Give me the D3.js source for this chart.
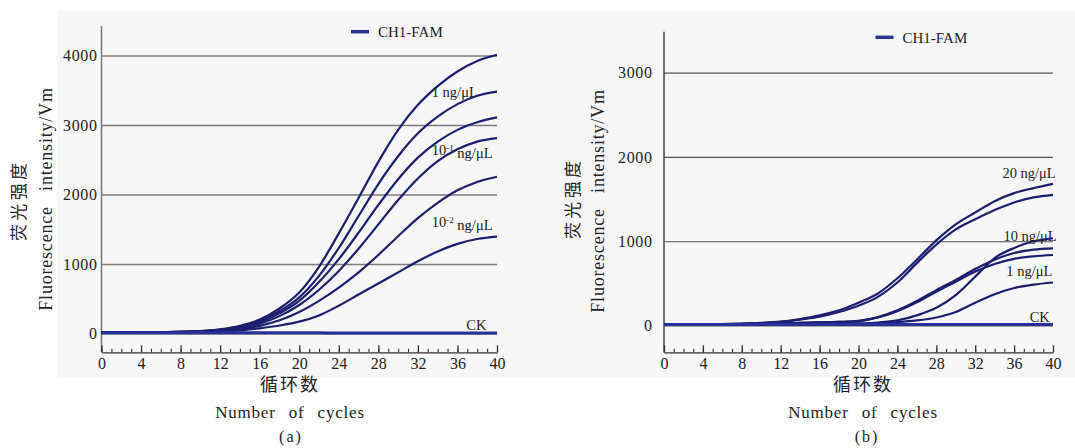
<!DOCTYPE html>
<html>
<head>
<meta charset="utf-8">
<script src="https://cdn.jsdelivr.net/npm/d3@7"></script>
<style>
  body { margin: 0; background: #fff; }
  text { font-family: "Liberation Serif", "Times New Roman", "DejaVu Serif", serif; fill: #222; }
  .cn { font-family: "Noto Sans CJK SC", sans-serif; }
</style>
</head>
<body>
<div id="chart"></div>
<script>
// cycles sampled every 2
const cycles = [0, 2, 4, 6, 8, 10, 12, 14, 16, 18, 20, 22, 24, 26, 28, 30, 32, 34, 36, 38, 40]

// panel (a) curves
const a1 = [15, 15, 18, 20, 25, 35, 60, 110, 200, 360, 590, 960, 1440, 1950, 2470, 2930, 3290, 3560, 3770, 3920, 4010]
const a2 = [15, 15, 17, 19, 24, 33, 55, 100, 180, 320, 520, 830, 1230, 1690, 2150, 2550, 2880, 3120, 3300, 3420, 3480]
const a3 = [15, 15, 17, 19, 23, 31, 50, 90, 160, 290, 470, 740, 1070, 1450, 1850, 2220, 2530, 2760, 2930, 3040, 3110]
const a4 = [14, 14, 16, 18, 22, 30, 45, 80, 140, 250, 410, 630, 900, 1220, 1570, 1920, 2230, 2480, 2650, 2760, 2810]
const a5 = [14, 14, 16, 18, 21, 28, 40, 65, 110, 190, 310, 470, 660, 880, 1130, 1400, 1660, 1880, 2060, 2180, 2256]
const a6 = [13, 13, 14, 16, 18, 22, 28, 45, 75, 115, 170, 260, 400, 560, 720, 880, 1040, 1180, 1290, 1360, 1394]
const ckA = [12, 12, 11, 11, 10, 10, 10, 9, 9, 9, 9, 9, 8, 8, 8, 8, 8, 8, 8, 8, 8]

// panel (b) curves
const b1 = [15, 15, 15, 18, 22, 30, 45, 75, 120, 180, 270, 380, 560, 780, 1010, 1200, 1340, 1475, 1570, 1630, 1680]
const b2 = [15, 15, 15, 17, 21, 28, 42, 70, 105, 160, 235, 340, 510, 740, 960, 1140, 1260, 1370, 1460, 1520, 1550]
const b3 = [14, 14, 14, 15, 16, 18, 20, 22, 24, 25, 25, 35, 60, 120, 210, 360, 580, 800, 920, 1000, 1035]
const b4 = [14, 14, 15, 16, 18, 20, 25, 30, 36, 42, 55, 100, 180, 290, 420, 540, 670, 780, 860, 900, 916]
const b5 = [14, 14, 15, 16, 18, 20, 25, 30, 36, 42, 52, 95, 170, 275, 400, 520, 640, 730, 790, 820, 836]
const b6 = [14, 14, 14, 15, 16, 17, 18, 19, 19, 20, 20, 28, 40, 60, 95, 160, 270, 370, 445, 485, 510]
const ckB = [12, 12, 12, 12, 12, 11, 11, 11, 11, 11, 11, 11, 11, 11, 11, 11, 11, 11, 11, 11, 11]

// ticks
const xMajor = [0, 4, 8, 12, 16, 20, 24, 28, 32, 36, 40]
const xMinor = d3.range(0, 41)
const yTicksA = [0, 1000, 2000, 3000, 4000]
const yTicksB = [0, 1000, 2000, 3000]

// labels
const labelsA = [
    {text: "1 ng/μL", c: 33.4, v: 3479},
    {text: "10", sup: "-1", rest: " ng/μL", c: 33.4, v: 2640},
    {text: "10", sup: "-2", rest: " ng/μL", c: 33.4, v: 1600},
    {text: "CK", c: 36.9, v: 122}
]
const labelsB = [
    {text: "20 ng/μL", c: 34.8, v: 1809},
    {text: "10 ng/μL", c: 34.9, v: 1062},
    {text: "1 ng/μL", c: 35.2, v: 650},
    {text: "CK", c: 37.6, v: 101}
]

const width = 1075
const height = 448
const lineColor = "#1c1f6e"
const serif = "'Liberation Serif', 'Times New Roman', 'DejaVu Serif', serif"

const svg = d3.select("#chart")
    .append("svg")
    .attr("width", width)
    .attr("height", height)

// light grey backdrop behind both panels
svg.append("rect")
    .attr("x", 57).attr("y", 11)
    .attr("width", 1018).attr("height", 367)
    .attr("fill", "#f7f7f7")

function panel(cfg) {
    const x = d3.scaleLinear().domain([0, 40]).range([cfg.left, cfg.right])
    const y = d3.scaleLinear().domain([0, cfg.yMax]).range([cfg.zeroY, cfg.topY])
    const g = svg.append("g")

    // horizontal gridlines + tick labels
    const yAxis = g.append("g")
        .attr("transform", `translate(${cfg.left},0)`)
        .attr("font-family", serif)
        .call(d3.axisLeft(y).tickValues(cfg.yTicks).tickSize(-(cfg.right - cfg.left)).tickPadding(cfg.yPad).tickFormat(d3.format("d")))
    yAxis.attr("font-family", serif)
    yAxis.select(".domain").remove()
    yAxis.selectAll(".tick line").attr("stroke", cfg.gridColor).attr("stroke-width", cfg.gridWidth)
    yAxis.selectAll(".tick text")
        .style("font-family", serif)
        .style("font-size", "16px")
        .attr("fill", "#222")
        .style("letter-spacing", "0.6px")

    // y axis line
    g.append("line")
        .attr("x1", cfg.left).attr("x2", cfg.left)
        .attr("y1", cfg.axisTop).attr("y2", cfg.axisBottom)
        .attr("stroke", cfg.yAxisColor).attr("stroke-width", 1.5)

    // x axis, major ticks pointing up
    const xAxis = g.append("g")
        .attr("transform", `translate(0,${cfg.axisBottom})`)
        .call(d3.axisBottom(x).tickValues(xMajor).tickSize(-7).tickSizeOuter(0).tickPadding(5))
    xAxis.attr("font-family", serif)
    xAxis.select(".domain").attr("stroke", "#333").attr("stroke-width", 1.3)
    xAxis.selectAll(".tick line").attr("stroke", "#333").attr("stroke-width", 1.3)
    xAxis.selectAll(".tick text")
        .style("font-family", serif)
        .style("font-size", "16px")
        .attr("fill", "#222")

    // minor ticks
    const minor = g.append("g")
        .attr("transform", `translate(0,${cfg.axisBottom})`)
        .call(d3.axisBottom(x).tickValues(xMinor).tickSize(-3.5).tickSizeOuter(0).tickFormat(""))
    minor.select(".domain").remove()
    minor.selectAll(".tick line").attr("stroke", "#333").attr("stroke-width", 1.1)

    // curves
    const line = d3.line()
        .x((d, i) => x(cycles[i]))
        .y(d => y(d))
        .curve(d3.curveMonotoneX)

    g.selectAll(".curve")
        .data(cfg.series)
        .join("path")
        .attr("class", "curve")
        .attr("d", line)
        .attr("fill", "none")
        .attr("stroke", lineColor)
        .attr("stroke-width", 2.2)

    g.append("path")
        .attr("d", line(cfg.ck))
        .attr("fill", "none")
        .attr("stroke", "#26319a")
        .attr("stroke-width", 3)

    // curve labels
    cfg.labels.forEach(l => {
        const t = g.append("text")
            .attr("x", x(l.c))
            .attr("y", y(l.v))
            .attr("dy", "0.35em")
            .style("font-family", serif)
            .style("font-size", "14.5px")
            .text(l.text)
        if (l.sup) {
            t.append("tspan").attr("dy", "-0.5em").style("font-size", "9px").text(l.sup)
            t.append("tspan").attr("dy", "0.5em").text(l.rest)
        }
    })

    // legend
    g.append("line")
        .attr("x1", cfg.legX).attr("x2", cfg.legX + 18)
        .attr("y1", cfg.legY).attr("y2", cfg.legY)
        .attr("stroke", "#2a3590").attr("stroke-width", 3.5)
    g.append("text")
        .attr("x", cfg.legX + 27).attr("y", cfg.legY)
        .attr("dy", "0.35em")
        .style("font-family", serif)
        .style("font-size", "15px")
        .text("CH1-FAM")

    // y titles
    g.append("text")
        .attr("class", "cn")
        .attr("transform", `translate(${cfg.cnX},${cfg.cnY}) rotate(-90)`)
        .attr("text-anchor", "middle")
        .attr("dy", "0.35em")
        .attr("textLength", 78)
        .attr("lengthAdjust", "spacing")
        .style("font-size", "17px")
        .attr("fill", "#333")
        .text("荧光强度")
    g.append("text")
        .attr("transform", `translate(${cfg.enX},${cfg.enY}) rotate(-90)`)
        .attr("text-anchor", "middle")
        .attr("dy", "0.35em")
        .style("font-family", serif)
        .style("font-size", "18px")
        .style("letter-spacing", "0.8px")
        .style("word-spacing", "10px")
        .text("Fluorescence intensity/Vm")

    // x titles
    g.append("text")
        .attr("class", "cn")
        .attr("x", cfg.xTitleX).attr("y", 385)
        .attr("text-anchor", "middle")
        .attr("dy", "0.35em")
        .style("font-size", "18px")
        .style("letter-spacing", "2px")
        .attr("fill", "#333")
        .text("循环数")
    g.append("text")
        .attr("x", cfg.xTitleX).attr("y", 412)
        .attr("text-anchor", "middle")
        .attr("dy", "0.35em")
        .style("font-family", serif)
        .style("font-size", "17px")
        .style("letter-spacing", "0.8px")
        .style("word-spacing", "8px")
        .text("Number of cycles")
    g.append("text")
        .attr("x", cfg.tagX).attr("y", 436)
        .attr("text-anchor", "middle")
        .attr("dy", "0.35em")
        .style("font-family", serif)
        .style("font-size", "16px")
        .style("letter-spacing", "2px")
        .text(cfg.tag)
}

panel({
    left: 101.5, right: 497, zeroY: 333.5, topY: 55.5, yMax: 4000,
    axisTop: 26, axisBottom: 352.3, yTicks: yTicksA, yPad: 4,
    gridColor: "#7c7c7c", gridWidth: 1.6, yAxisColor: "#777",
    series: [a1, a2, a3, a4, a5, a6], ck: ckA, labels: labelsA,
    legX: 351, legY: 31.7,
    cnX: 19, cnY: 202, enX: 46, enY: 199,
    xTitleX: 290, tagX: 291, tag: "(a)"
})

panel({
    left: 664, right: 1053, zeroY: 325.5, topY: 72.6, yMax: 3000,
    axisTop: 31.7, axisBottom: 352.3, yTicks: yTicksB, yPad: 11.5,
    gridColor: "#555", gridWidth: 1.1, yAxisColor: "#444",
    series: [b1, b2, b3, b4, b5, b6], ck: ckB, labels: labelsB,
    legX: 875.5, legY: 37.3,
    cnX: 573, cnY: 200, enX: 598, enY: 201,
    xTitleX: 863, tagX: 867, tag: "(b)"
})
</script>
</body>
</html>
